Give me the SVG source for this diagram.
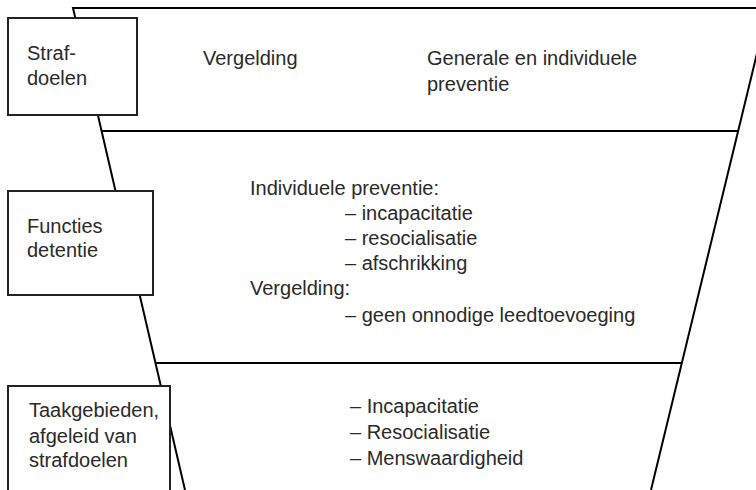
<svg xmlns="http://www.w3.org/2000/svg" width="756" height="490" viewBox="0 0 756 490">
  <style>
    .edge { fill: none; stroke: #000; stroke-width: 2; }
    .box { fill: #fff; stroke: #222; stroke-width: 2; }
    text { font-family: "Liberation Sans", Arial, sans-serif; font-size: 20px; fill: #2a2a2a; }
  </style>
  <rect width="756" height="490" fill="#fff"/>

  <!-- Funnel outline and tier dividers -->
  <g id="funnel">
    <path class="edge" d="M185,490 L73,8 L768,8 L651,490"/>
    <line class="edge" x1="101" y1="131" x2="739" y2="131"/>
    <line class="edge" x1="155" y1="363" x2="682" y2="363"/>
  </g>

  <!-- Tier 1: strafdoelen -->
  <g id="tier-strafdoelen">
    <text x="203" y="65">Vergelding</text>
    <text x="427" y="65">Generale en individuele</text>
    <text x="427" y="91">preventie</text>
  </g>

  <!-- Tier 2: functies detentie -->
  <g id="tier-functies">
    <text x="250" y="195">Individuele preventie:</text>
    <text x="345" y="220">– incapacitatie</text>
    <text x="345" y="245">– resocialisatie</text>
    <text x="345" y="270">– afschrikking</text>
    <text x="250" y="295">Vergelding:</text>
    <text x="345" y="322">– geen onnodige leedtoevoeging</text>
  </g>

  <!-- Tier 3: taakgebieden -->
  <g id="tier-taakgebieden">
    <text x="350" y="413">– Incapacitatie</text>
    <text x="350" y="439">– Resocialisatie</text>
    <text x="350" y="465">– Menswaardigheid</text>
  </g>

  <!-- Side labels -->
  <g id="label-strafdoelen">
    <rect class="box" x="8" y="18" width="129" height="97"/>
    <text x="27" y="60">Straf-</text>
    <text x="27" y="85">doelen</text>
  </g>
  <g id="label-functies">
    <rect class="box" x="8" y="191" width="145" height="104"/>
    <text x="27" y="233">Functies</text>
    <text x="27" y="257">detentie</text>
  </g>
  <g id="label-taakgebieden">
    <rect class="box" x="8" y="386" width="162" height="110"/>
    <text x="29" y="417">Taakgebieden,</text>
    <text x="29" y="443">afgeleid van</text>
    <text x="29" y="467">strafdoelen</text>
  </g>

  <g id="connectors"/>
</svg>
